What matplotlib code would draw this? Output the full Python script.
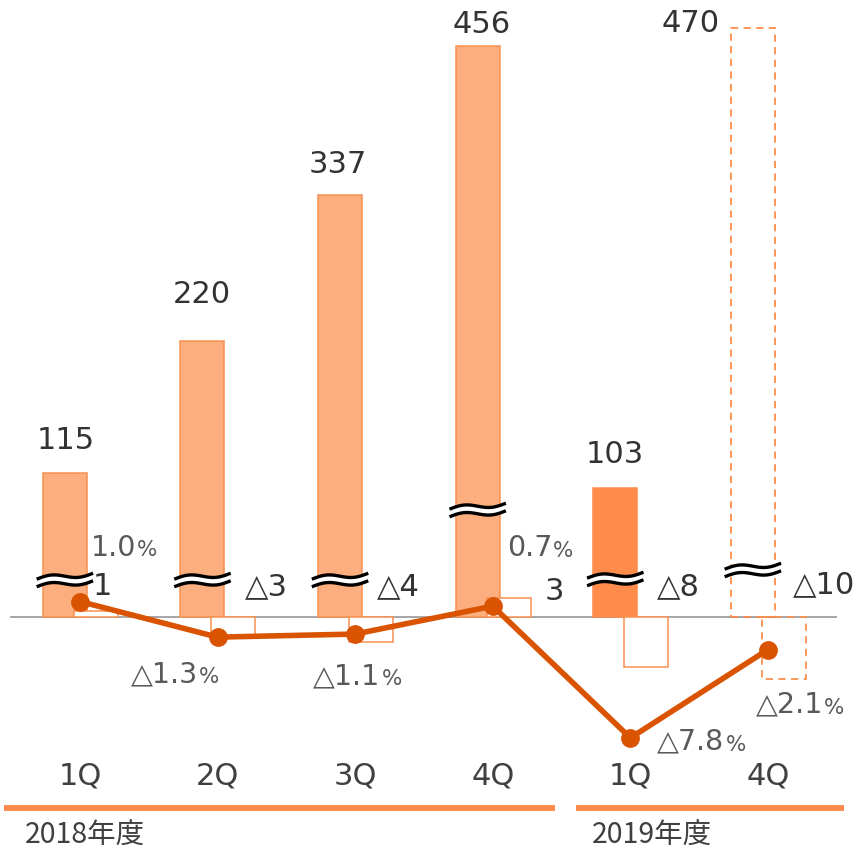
import numpy as np
import matplotlib
matplotlib.use("Agg")
import matplotlib.pyplot as plt
from matplotlib.transforms import blended_transform_factory

# ---------------- data ----------------
CATEGORIES = ["1Q", "2Q", "3Q", "4Q", "1Q", "4Q"]
YEARS = ["2018年度", "2019年度"]
REVENUE = [115, 220, 337, 456, 103, 470]
PROFIT = [1, -3, -4, 3, -8, -10]
MARGIN = [1.0, -1.3, -1.1, 0.7, -7.8, -2.1]

# ---------------- style / layout ----------------
W, H = 857, 851
X0, DX, BASE = 80.0, 137.6, 617.0        # pixel geometry
REV_PX, PROF_PX, MARG_PX = 1.253, 6.2, 15.5  # pixels per unit on each scale

C_REV = "#FCAE7E"
C_REV_EDGE = "#F8914F"
C_REV_SOLID = "#FF8C4A"
C_LINE = "#D95300"
C_EDGE = "#F8914F"
C_TXT = "#333333"
C_PCT = "#595959"

BAR_W = 0.32
REV_OFF = -0.11
PROF_OFF = 0.115

REV_LABEL_OFF = [(1, 24), (-1, 38), (-2, 22), (4, 13), (0, 25), (-62, -4)]
PROF_LABEL_OFF = [(13, 22), (27, 22), (22, 22), (52, 17), (27, 22), (25, 24)]
PCT_LABEL_OFF = [(11, 46), (-87, -45), (-42, -50), (14, 50), (27, -12), (-12, -63)]
BREAK_PX = [580, 580, 580, 510, 579, 570]

FONT = "DejaVu Sans"
plt.rcParams["font.family"] = [FONT, "Noto Sans CJK JP"]


def fmt(v, dec=0):
    s = f"{abs(v):.{dec}f}"
    return ("△" + s) if v < 0 else s


fig = plt.figure(figsize=(W / 100, H / 100), dpi=100)
ax = fig.add_axes([0, 0, 1, 1])
ax2 = ax.twinx()
ax3 = ax.twinx()
for a in (ax, ax2, ax3):
    a.set_position([0, 0, 1, 1])
    a.axis("off")

ax.set_xlim(-X0 / DX, (W - X0) / DX)
ax.set_ylim(-(H - BASE) / REV_PX, BASE / REV_PX)
ax2.set_ylim(-(H - BASE) / PROF_PX, BASE / PROF_PX)
ax3.set_ylim(-(H - BASE) / MARG_PX, BASE / MARG_PX)

x = np.arange(len(CATEGORIES))

# baseline
ax.axhline(0, xmin=11 / W, xmax=836 / W, color="#A6A6A6", lw=1.4, zorder=1)

# revenue bars
rev_bars = ax.bar(x + REV_OFF, REVENUE, width=BAR_W, color=C_REV,
                  edgecolor=C_REV_EDGE, linewidth=1.1, zorder=2)
rev_bars[4].set_facecolor(C_REV_SOLID)
rev_bars[4].set_edgecolor(C_REV_SOLID)
rev_bars[5].set_facecolor("none")
rev_bars[5].set_edgecolor(C_REV_SOLID)
rev_bars[5].set_linestyle((0, (4, 3)))
rev_bars[5].set_linewidth(1.3)

# break marks on revenue bars
t = np.linspace(0, 1, 80)
for i, bpx in enumerate(BREAK_PX):
    xc = x[i] + REV_OFF
    xs = xc - BAR_W / 2 - 0.045 + t * (BAR_W + 0.09)
    yc = (BASE - bpx) / REV_PX
    wave = (t - 0.5) * 6 + 2.6 * np.sin(2 * np.pi * t)
    gap = 3.8
    y_top = yc + (wave + gap) / REV_PX
    y_bot = yc + (wave - gap) / REV_PX
    ax.fill_between(xs, y_bot, y_top, color="white", zorder=4, lw=0)
    ax.plot(xs, y_top, color="black", lw=2.4, zorder=5, solid_capstyle="butt")
    ax.plot(xs, y_bot, color="black", lw=2.4, zorder=5, solid_capstyle="butt")

# revenue labels
for i, v in enumerate(REVENUE):
    dx, dy = REV_LABEL_OFF[i]
    ax.annotate(str(v), xy=(x[i] + REV_OFF, v), xytext=(dx, dy),
                textcoords="offset pixels", ha="center", va="baseline",
                fontsize=22, color=C_TXT, zorder=6)

# profit bars
prof_bars = ax2.bar(x + PROF_OFF, PROFIT, width=BAR_W, color="white",
                    edgecolor=C_EDGE, linewidth=1.1, zorder=2)
prof_bars[5].set_facecolor("none")
prof_bars[5].set_linestyle((0, (4, 3)))
prof_bars[5].set_linewidth(1.3)

for i, v in enumerate(PROFIT):
    dx, dy = PROF_LABEL_OFF[i]
    ax2.annotate(fmt(v), xy=(x[i], 0), xytext=(dx, dy),
                 textcoords="offset pixels", ha="left", va="baseline",
                 fontsize=22, color=C_TXT, zorder=6)

# margin line
ax3.plot(x, MARGIN, color=C_LINE, lw=4.0, marker="o", markersize=12.5,
         zorder=5, solid_capstyle="round")
for i, v in enumerate(MARGIN):
    dx, dy = PCT_LABEL_OFF[i]
    tt = ax3.annotate(fmt(v, 1), xy=(x[i], v), xytext=(dx, dy),
                      textcoords="offset pixels", ha="left", va="baseline",
                      fontsize=20.5, color=C_PCT, zorder=6)
    ax3.annotate("%", xy=(1, 0), xycoords=tt, xytext=(1, 1),
                 textcoords="offset pixels", ha="left", va="bottom",
                 fontsize=15.5, color=C_PCT, zorder=6)

# category labels
tr = blended_transform_factory(ax.transData, ax.transAxes)
for i, c in enumerate(CATEGORIES):
    ax.text(x[i], 1 - 776 / H, c, transform=tr, ha="center", va="center",
            fontsize=22, color="#404040")

# year group bars and labels
ax.plot([4 / W, 555 / W], [1 - 808 / H] * 2, transform=ax.transAxes,
        color="#FF8C4A", lw=4.3, solid_capstyle="butt", clip_on=False)
ax.plot([576 / W, 844 / W], [1 - 808 / H] * 2, transform=ax.transAxes,
        color="#FF8C4A", lw=4.3, solid_capstyle="butt", clip_on=False)
ax.text(25 / W, 1 - 836 / H, YEARS[0], transform=ax.transAxes, ha="left",
        va="center", fontsize=20.5, color="#404040",
        family=["Noto Sans CJK JP", "DejaVu Sans"])
ax.text(592 / W, 1 - 836 / H, YEARS[1], transform=ax.transAxes, ha="left",
        va="center", fontsize=20.5, color="#404040",
        family=["Noto Sans CJK JP", "DejaVu Sans"])

fig.savefig("out.png", dpi=100)
